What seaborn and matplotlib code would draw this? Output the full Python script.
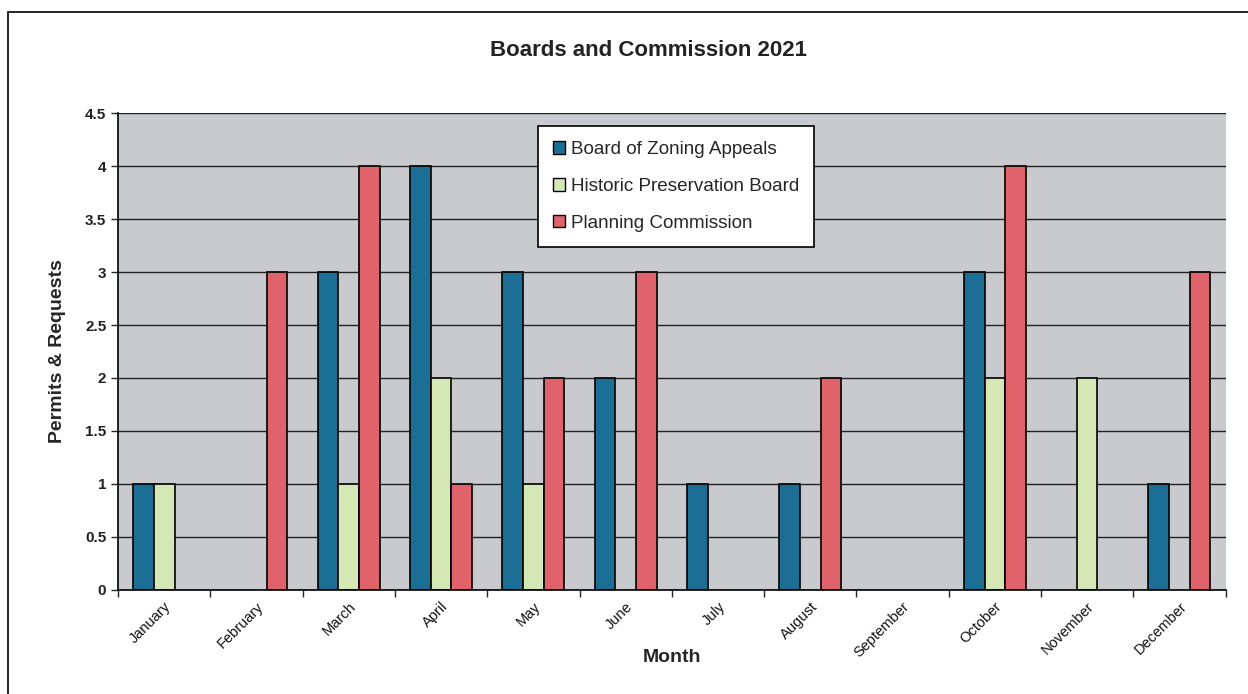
import matplotlib
matplotlib.use("Agg")
import matplotlib.pyplot as plt
import seaborn as sns
import pandas as pd
import numpy as np
from matplotlib.patches import Rectangle, Patch
from matplotlib.ticker import FixedLocator

months = ["January", "February", "March", "April", "May", "June", "July",
          "August", "September", "October", "November", "December"]
series = ["Board of Zoning Appeals", "Historic Preservation Board", "Planning Commission"]
bza = [1, 0, 3, 4, 3, 2, 1, 1, 0, 3, 0, 1]
hpb = [1, 0, 1, 2, 1, 0, 0, 0, 0, 2, 2, 0]
pc = [0, 3, 4, 1, 2, 3, 0, 2, 0, 4, 0, 3]
yticks = [0, 0.5, 1, 1.5, 2, 2.5, 3, 3.5, 4, 4.5]
ytick_labels = ["0", "0.5", "1", "1.5", "2", "2.5", "3", "3.5", "4", "4.5"]
colors = ["#1b6e94", "#d5e7b4", "#e0636b"]

df = pd.DataFrame({
    "Month": months * 3,
    "Series": [series[0]] * 12 + [series[1]] * 12 + [series[2]] * 12,
    "Value": bza + hpb + pc,
})

sns.set_style("white")
plt.rcParams["font.family"] = ["Liberation Sans", "DejaVu Sans"]

fig = plt.figure(figsize=(12.48, 6.94), dpi=100)
ax = fig.add_axes([0.0946, 0.150, 0.8874, 0.687])
ax.set_facecolor("#c9cacd")

sns.barplot(data=df, x="Month", y="Value", hue="Series", order=months,
            hue_order=series, palette=colors, width=0.67, ax=ax,
            edgecolor="black", linewidth=1.2, saturation=1, zorder=3, legend=False)
for cont in ax.containers:
    for p in cont.patches:
        if p.get_height() == 0:
            p.set_visible(False)

ax.set_xlim(-0.5, 11.5)
ax.set_yticks(yticks)
ax.set_yticklabels(ytick_labels)
ax.set_ylim(0, 4.5)
ax.grid(axis="y", color="#222222", linewidth=1.0, zorder=0)
ax.set_axisbelow(True)
for s in ["top", "right"]:
    ax.spines[s].set_visible(False)
for s in ["left", "bottom"]:
    ax.spines[s].set_color("black")
    ax.spines[s].set_linewidth(1.2)
    ax.spines[s].set_zorder(4)

ax.tick_params(axis="y", which="major", left=True, length=5, width=1, labelsize=11,
               direction="out")
ax.tick_params(axis="x", which="major", bottom=False, labelsize=10.5)
ax.xaxis.set_minor_locator(FixedLocator(np.arange(-0.5, 12, 1)))
ax.tick_params(axis="x", which="minor", bottom=True, length=5, width=1, direction="out")
for lbl in ax.get_xticklabels():
    lbl.set_rotation(45)
    lbl.set_ha("right")
    lbl.set_rotation_mode("anchor")
    lbl.set_color("#111111")
for lbl in ax.get_yticklabels():
    lbl.set_fontweight("bold")
    lbl.set_color("#222222")

ax.set_xlabel("Month", fontsize=14, fontweight="bold", labelpad=-8)
ax.set_ylabel("Permits & Requests", fontsize=14, fontweight="bold", labelpad=14)
fig.suptitle("Boards and Commission 2021", fontsize=16, fontweight="bold",
             x=0.52, y=0.942, color="#222222")

handles = [Patch(facecolor=c, edgecolor="black", linewidth=1.0) for c in colors]
leg = ax.legend(handles, series, loc="upper left", bbox_to_anchor=(0.3705, 0.993),
                frameon=True, fancybox=False, fontsize=13.6, handlelength=0.65,
                handleheight=0.65, handletextpad=0.3, labelspacing=1.05, borderpad=0.8)
leg.get_frame().set_edgecolor("black")
leg.get_frame().set_linewidth(1.2)
leg.get_frame().set_facecolor("white")
leg.get_frame().set_alpha(1)
leg.set_zorder(5)

fig.patches.append(Rectangle((8 / 1248, -0.1), 1.2, 1.1 - 12 / 694,
                             transform=fig.transFigure, fill=False,
                             edgecolor="black", linewidth=1.2))

fig.savefig("out.png", dpi=100)
